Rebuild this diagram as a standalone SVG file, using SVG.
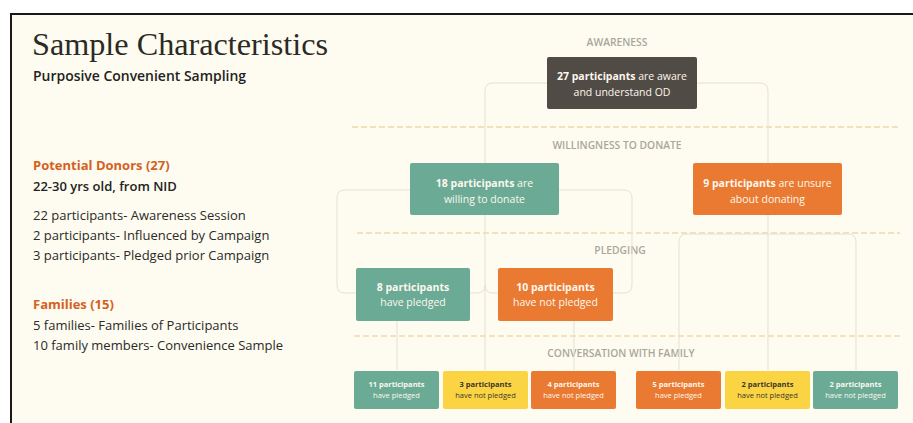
<svg xmlns="http://www.w3.org/2000/svg" width="913" height="423" viewBox="0 0 913 423">
<defs>
<style>
.bg{fill:#fefcf0}
.h{font-family:"Open Sans","Liberation Sans",sans-serif;font-weight:700;fill:#d4611f;font-size:13px}
.sub{font-family:"Open Sans","Liberation Sans",sans-serif;font-weight:600;fill:#222;font-size:13px}
.body{font-family:"Open Sans","Liberation Sans",sans-serif;fill:#2a2a2a;font-size:13px}
.stage{font-family:"Open Sans","Liberation Sans",sans-serif;font-weight:600;fill:#aaa69c;font-size:10.3px;text-anchor:middle}
.dash{stroke:#efd8a6;stroke-width:1.5;stroke-dasharray:6 3;fill:none}
.conn{stroke:#e5e1d2;stroke-width:1;fill:none}
.teal{fill:#6bab96}
.orange{fill:#ea7a32}
.yellow{fill:#fbd444}
.dark{fill:#514b46}
.nt{font-family:"Open Sans","Liberation Sans",sans-serif;fill:#fdf7ee;text-anchor:middle;font-size:10.5px}
.st{font-family:"Open Sans","Liberation Sans",sans-serif;fill:#fdf7ee;text-anchor:middle;font-size:7.5px}
.sty{font-family:"Open Sans","Liberation Sans",sans-serif;fill:#3a372c;text-anchor:middle;font-size:7.5px}
.b{font-weight:700}
</style>
</defs>
<rect x="0" y="0" width="913" height="423" fill="#ffffff"/>
<rect class="bg" x="10" y="13" width="903" height="410"/>
<path d="M11,423 V14 H913" stroke="#1a1a1a" stroke-width="2" fill="none"/>

<g id="title">
<text x="32" y="55" font-family="'Liberation Serif',serif" font-size="32" fill="#2b2a24" textLength="296" lengthAdjust="spacingAndGlyphs">Sample Characteristics</text>
<text x="33" y="81" class="sub" style="font-size:14.5px" textLength="213" lengthAdjust="spacingAndGlyphs">Purposive Convenient Sampling</text>
</g>

<g id="left-info">
<text x="33" y="170" class="h">Potential Donors (27)</text>
<text x="33" y="191" class="sub">22-30 yrs old, from NID</text>
<text x="33" y="220" class="body">22 participants- Awareness Session</text>
<text x="33" y="240" class="body">2 participants- Influenced by Campaign</text>
<text x="33" y="260" class="body">3 participants- Pledged prior Campaign</text>
<text x="33" y="309" class="h">Families (15)</text>
<text x="33" y="330" class="body">5 families- Families of Participants</text>
<text x="33" y="350" class="body">10 family members- Convenience Sample</text>
</g>

<g id="stages">
<path class="dash" d="M352,127 H900"/>
<path class="dash" d="M357,233 H900"/>
<path class="dash" d="M354,336 H900"/>
<text x="617" y="46" class="stage">AWARENESS</text>
<text x="617" y="149" class="stage">WILLINGNESS TO DONATE</text>
<text x="620" y="254" class="stage">PLEDGING</text>
<text x="621" y="357" class="stage">CONVERSATION WITH FAMILY</text>
</g>

<g id="connectors">
<path class="conn" d="M485,163 V91 Q485,83 493,83 H760 Q768,83 768,91 V163"/>
<path class="conn" d="M485,215 V370"/>
<path class="conn" d="M485,190 H345 Q337,190 337,198 V285 Q337,293 345,293 H477 Q485,293 485,285"/>
<path class="conn" d="M485,285 Q485,293 493,293 H624 Q632,293 632,285 V198 Q632,190 624,190 H485"/>
<path class="conn" d="M768,215 V370"/>
<path class="conn" d="M679,370 V242 Q679,234 687,234 H848 Q856,234 856,242 V370"/>
<path class="conn" d="M397,321 V370"/>
<path class="conn" d="M574,321 V370"/>
</g>

<g id="node-aware">
<rect class="dark" x="547" y="57" width="150" height="52" rx="2"/>
<text x="622" y="80" class="nt"><tspan class="b">27 participants</tspan> are aware</text>
<text x="622" y="96" class="nt">and understand OD</text>
</g>

<g id="node-willing">
<rect class="teal" x="410" y="163" width="149" height="52" rx="2"/>
<text x="484.5" y="187" class="nt"><tspan class="b">18 participants</tspan> are</text>
<text x="484.5" y="203" class="nt">willing to donate</text>
</g>

<g id="node-unsure">
<rect class="orange" x="693" y="163" width="149" height="52" rx="2"/>
<text x="767.5" y="187" class="nt"><tspan class="b">9 participants</tspan> are unsure</text>
<text x="767.5" y="203" class="nt">about donating</text>
</g>

<g id="node-pledged">
<rect class="teal" x="356" y="268" width="114" height="53" rx="2"/>
<text x="413" y="291" class="nt"><tspan class="b">8 participants</tspan></text>
<text x="413" y="306" class="nt">have pledged</text>
</g>

<g id="node-notpledged">
<rect class="orange" x="498" y="268" width="115" height="53" rx="2"/>
<text x="555.5" y="291" class="nt"><tspan class="b">10 participants</tspan></text>
<text x="555.5" y="306" class="nt">have not pledged</text>
</g>

<g id="fam-1">
<rect class="teal" x="354" y="371" width="85" height="38" rx="2"/>
<text x="396.5" y="387" class="st"><tspan class="b">11 participants</tspan></text>
<text x="396.5" y="398" class="st">have pledged</text>
</g>
<g id="fam-2">
<rect class="yellow" x="443" y="371" width="85" height="38" rx="2"/>
<text x="485.5" y="387" class="sty"><tspan class="b">3 participants</tspan></text>
<text x="485.5" y="398" class="sty">have not pledged</text>
</g>
<g id="fam-3">
<rect class="orange" x="531" y="371" width="85" height="38" rx="2"/>
<text x="573.5" y="387" class="st"><tspan class="b">4 participants</tspan></text>
<text x="573.5" y="398" class="st">have not pledged</text>
</g>
<g id="fam-4">
<rect class="orange" x="636" y="371" width="85" height="38" rx="2"/>
<text x="678.5" y="387" class="st"><tspan class="b">5 participants</tspan></text>
<text x="678.5" y="398" class="st">have pledged</text>
</g>
<g id="fam-5">
<rect class="yellow" x="725" y="371" width="85" height="38" rx="2"/>
<text x="767.5" y="387" class="sty"><tspan class="b">2 participants</tspan></text>
<text x="767.5" y="398" class="sty">have not pledged</text>
</g>
<g id="fam-6">
<rect class="teal" x="813" y="371" width="85" height="38" rx="2"/>
<text x="855.5" y="387" class="st"><tspan class="b">2 participants</tspan></text>
<text x="855.5" y="398" class="st">have not pledged</text>
</g>
</svg>
